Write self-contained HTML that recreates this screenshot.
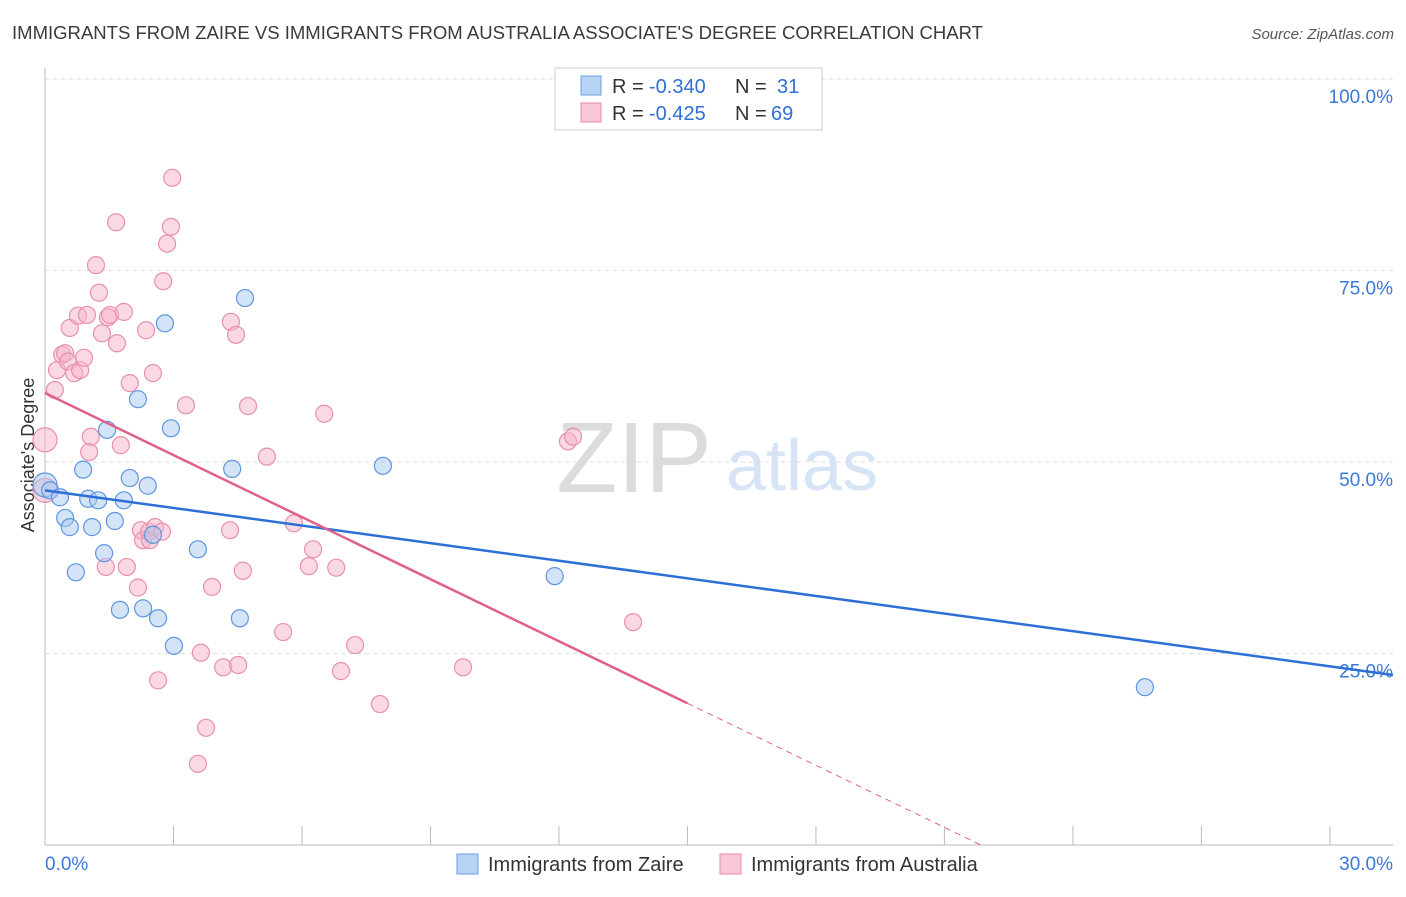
<!DOCTYPE html>
<html><head><meta charset="utf-8"><style>
body{margin:0;background:#fff;font-family:"Liberation Sans",sans-serif}
svg text{font-family:"Liberation Sans",sans-serif}
</style></head><body>
<svg id="c" width="1406" height="892">
<text x="12" y="39" font-size="18.5" fill="#3a3a3a" textLength="971" lengthAdjust="spacingAndGlyphs">IMMIGRANTS FROM ZAIRE VS IMMIGRANTS FROM AUSTRALIA ASSOCIATE'S DEGREE CORRELATION CHART</text>
<text x="1394" y="39" font-size="15" fill="#555" text-anchor="end" font-style="italic">Source: ZipAtlas.com</text>
<text x="34" y="455" font-size="18" fill="#333" text-anchor="middle" transform="rotate(-90 34 455)">Associate's Degree</text>
<g><text x="634" y="492" font-size="100" fill="#dcdcdc" font-family="Liberation Serif" text-anchor="middle">ZIP</text><text x="802" y="490" font-size="72" fill="#d6e4f5" text-anchor="middle">atlas</text></g>
<g id="grid"></g><g id="marks"></g>
<g>
<rect x="555" y="68" width="267" height="62" fill="#fff" stroke="#ccc"/>
<rect x="581" y="76" width="20" height="19" fill="#b8d4f5" stroke="#6a9fe0"/>
<rect x="581" y="103" width="20" height="19" fill="#f8c6d6" stroke="#e88aa8"/>
<text x="612" y="93" font-size="20" fill="#333">R = </text><text x="649" y="93" font-size="20" fill="#2f6fd6">-0.340</text>
<text x="735" y="93" font-size="20" fill="#333">N = </text><text x="777" y="93" font-size="20" fill="#2f6fd6">31</text>
<text x="612" y="120" font-size="20" fill="#333">R = </text><text x="649" y="120" font-size="20" fill="#2f6fd6">-0.425</text>
<text x="735" y="120" font-size="20" fill="#333">N = </text><text x="771" y="120" font-size="20" fill="#2f6fd6">69</text>
</g>
<g>
<rect x="457" y="854" width="21" height="20" fill="#b8d4f5" stroke="#6a9fe0"/>
<text x="488" y="871" font-size="20" fill="#333">Immigrants from Zaire</text>
<rect x="720" y="854" width="21" height="20" fill="#f8c6d6" stroke="#e88aa8"/>
<text x="751" y="871" font-size="20" fill="#333">Immigrants from Australia</text>
</g>
</svg>
<script>
const yTicks=[25,50,75,100];
const yTickLabels=["25.0%","50.0%","75.0%","100.0%"];
const xTickLabels=["0.0%","30.0%"];
const blueX=[0,0.12,0.35,0.47,0.58,0.72,0.89,1.01,1.10,1.24,1.38,1.45,1.63,1.75,1.84,1.98,2.17,2.29,2.40,2.52,2.64,2.80,2.94,3.01,3.57,4.37,4.55,4.67,7.89,11.90,25.68];
const blueY=[47.0,46.3,45.4,42.7,41.5,35.6,49.0,45.2,41.5,45.0,38.1,54.2,42.3,30.7,45.0,47.9,58.2,30.9,46.9,40.5,29.6,68.1,54.4,26.0,38.6,49.1,29.6,71.4,49.5,35.1,20.6];
const pinkX=[0,0,.23,.28,.40,.47,.54,.58,.68,.77,.82,.91,.98,1.03,1.07,1.19,1.26,1.33,1.42,1.47,1.52,1.66,1.68,1.77,1.84,1.91,1.98,2.17,2.24,2.29,2.36,2.43,2.45,2.52,2.57,2.64,2.73,2.76,2.85,2.94,2.97,3.29,3.57,3.64,3.76,3.90,4.16,4.32,4.34,4.46,4.51,4.62,4.74,5.18,5.56,5.81,6.16,6.26,6.52,6.80,6.91,7.24,7.82,9.76,12.21,12.33,13.73];
const pinkY=[52.9,46.3,59.4,62.0,64.0,64.2,63.1,67.5,61.6,69.1,62.0,63.6,69.2,51.3,53.3,75.7,72.1,66.8,36.3,68.9,69.2,81.3,65.5,52.2,69.6,36.3,60.3,33.6,41.1,39.8,67.2,40.9,39.8,61.6,41.5,21.5,40.9,73.6,78.5,80.7,87.1,57.4,10.6,25.1,15.3,33.7,23.2,41.1,68.3,66.6,23.5,35.8,57.3,50.7,27.8,42.0,36.4,38.6,56.3,36.2,22.7,26.1,18.4,23.2,52.7,53.3,29.1];
const blueTrend=[46.3,-0.766];
const pinkTrend=[59.0,-2.70];
const pinkSolidEnd=15;
const X=v=>45+v*42.83, Y=v=>845-v*7.66;
const NS="http://www.w3.org/2000/svg";
const grid=document.getElementById('grid'), marks=document.getElementById('marks');
function mk(p,tag,a){const e=document.createElementNS(NS,tag);for(const k in a)e.setAttribute(k,a[k]);p.appendChild(e);return e;}
let ax=mk(grid,'line',{x1:45,y1:68,x2:45,y2:845,stroke:'#bbb'});


let bx=mk(grid,'line',{x1:45,y1:845,x2:1393,y2:845,stroke:'#bbb'});


for(let i=0;i<=10;i++){let t=mk(grid,'line',{x1:X(i*3),x2:X(i*3),y1:826,y2:845,stroke:'#bbb'});

}
yTicks.forEach((v,i)=>{let g=mk(grid,'line',{x1:45,x2:1393,y1:Y(v),y2:Y(v),stroke:'#ddd','stroke-dasharray':'4,4'});


let t=mk(grid,'text',{x:1393,y:Y(v)+24,'font-size':19,fill:'#3b78d8','text-anchor':'end'});t.textContent=yTickLabels[i];

});
[[0,'start',45],[1,'end',1393]].forEach(([i,a,x])=>{let t=mk(grid,'text',{x:x,y:870,'font-size':19,fill:'#3b78d8','text-anchor':a});t.textContent=xTickLabels[i];

});
function pts(xs,ys,fill,stroke,name){xs.forEach((x,i)=>{const big=(x===0);let c=mk(marks,'circle',{cx:X(x),cy:Y(ys[i]),r:big?12:8.5,fill:fill,'fill-opacity':0.5,stroke:stroke,'stroke-width':1.2});

});}
pts(pinkX,pinkY,'#f5b3c8','#e890ad','australia-point');
pts(blueX,blueY,'#a9c9f2','#5d95de','zaire-point');
let bl=mk(marks,'line',{x1:X(0),y1:Y(blueTrend[0]),x2:1393,y2:Y(blueTrend[0]+blueTrend[1]*(1348/42.83)),stroke:'#2c6fd6','stroke-width':2.5});


let pl=mk(marks,'line',{x1:X(0),y1:Y(pinkTrend[0]),x2:X(pinkSolidEnd),y2:Y(pinkTrend[0]+pinkTrend[1]*pinkSolidEnd),stroke:'#e0608d','stroke-width':2.5});


const z=-pinkTrend[0]/pinkTrend[1];
let pd=mk(marks,'line',{x1:X(pinkSolidEnd),y1:Y(pinkTrend[0]+pinkTrend[1]*pinkSolidEnd),x2:X(z),y2:Y(0),stroke:'#e0608d','stroke-width':1,'stroke-dasharray':'6,5'});


</script>
</body></html>
